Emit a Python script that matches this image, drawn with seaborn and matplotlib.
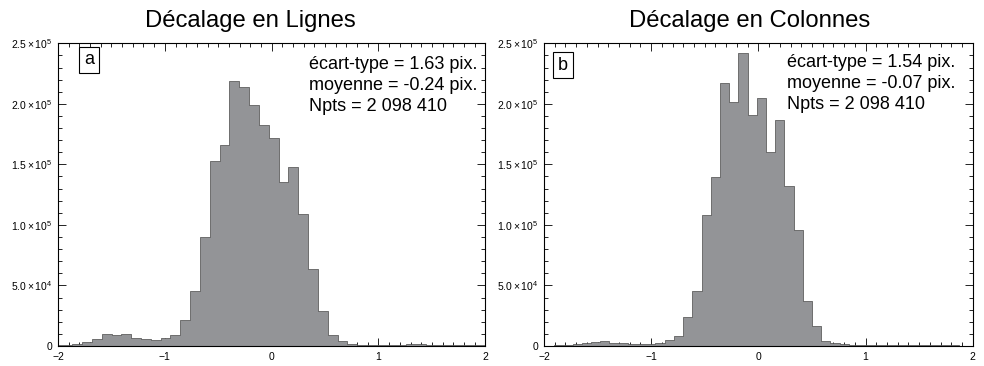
import numpy as np
import pandas as pd
import matplotlib
matplotlib.use("Agg")
import matplotlib.pyplot as plt
import seaborn as sns
from matplotlib.ticker import MultipleLocator

# ---------------- data ----------------
titles = ["Décalage en Lignes", "Décalage en Colonnes"]
panel_labels = ["a", "b"]
stats_a = ["écart-type = 1.63 pix.", "moyenne = -0.24 pix.", "Npts = 2 098 410"]
stats_b = ["écart-type = 1.54 pix.", "moyenne = -0.07 pix.", "Npts = 2 098 410"]

# panel a : bins of width 0.092, edge k = -0.027 + 0.092*k, k from -22
bin_origin_a = -0.027
bin_width_a = 0.092
first_bin_a = -22
counts_a = [500, 800, 1700, 3100, 6100, 9800, 8900, 9800, 7000, 5400,
            5300, 6500, 9000, 21400, 45600, 89800, 152400, 165900, 218800, 214100,
            198700, 182400, 172200, 135600, 148000, 109100, 63700, 28700, 9200, 3800,
            1600, 1100, 900, 800, 900, 1100, 1300, 1400, 1200, 1000,
            800, 700, 600, 500]

# panel b : bins of width 0.0859, edge k = -0.015 + 0.0859*k, k from -24
bin_origin_b = -0.015
bin_width_b = 0.0859
first_bin_b = -24
counts_b = [300, 300, 500, 1100, 1700, 2200, 2900, 3800, 2400, 2200,
            1800, 1700, 1900, 2200, 4700, 8500, 24000, 45200, 107800, 139700,
            217400, 201700, 241700, 190400, 204500, 160400, 186600, 132300, 95400, 36900,
            16500, 4400, 2200, 1700, 1100, 800, 800, 1000, 1100, 1100,
            1000, 800, 700, 600, 500, 500, 400, 300]

x_ticks = [-2, -1, 0, 1, 2]
x_tick_labels = ["\u22122", "\u22121", "0", "1", "2"]
y_ticks = [0, 5e4, 1e5, 1.5e5, 2e5, 2.5e5]
y_tick_labels = ["0", r"$5.0\times10^{4}$", r"$1.0\times10^{5}$",
                 r"$1.5\times10^{5}$", r"$2.0\times10^{5}$", r"$2.5\times10^{5}$"]

# ---------------- style ----------------
sns.set_theme(style="white")
plt.rcParams["font.family"] = ["Liberation Sans", "DejaVu Sans"]
plt.rcParams["mathtext.fontset"] = "custom"
plt.rcParams["mathtext.rm"] = "Liberation Sans"
plt.rcParams["mathtext.it"] = "Liberation Sans:italic"
plt.rcParams["mathtext.bf"] = "Liberation Sans:bold"

W, H = 984, 366
fig = plt.figure(figsize=(W / 100, H / 100), dpi=100)

def fx(px):
    return px / W

def fy(py):
    return 1 - py / H

axes_px = [(58, 43.3, 485.3, 346), (544, 43.3, 972.7, 346)]
title_x = [250.5, 750]
label_box = [(89, 60), (563, 65)]
stats_pos = [(309, [69, 90, 111]), (787, [67, 88, 109])]

fill_color = "#939497"
edge_color = "#4a4a4a"

panels = [
    (bin_origin_a, bin_width_a, first_bin_a, counts_a, stats_a),
    (bin_origin_b, bin_width_b, first_bin_b, counts_b, stats_b),
]

for i, (orig, bw, k0, counts, stats) in enumerate(panels):
    x0, y0, x1, y1 = axes_px[i]
    ax = fig.add_axes([fx(x0), fy(y1), fx(x1 - x0), (y1 - y0) / H])
    n = len(counts)
    lo = orig + bw * k0
    hi = orig + bw * (k0 + n)
    centers = lo + bw * (np.arange(n) + 0.5)
    df = pd.DataFrame({"shift": centers, "count": np.asarray(counts, float)})
    sns.histplot(data=df, x="shift", weights="count", binwidth=bw,
                 binrange=(lo, hi), element="step",
                 fill=True, color=fill_color, alpha=1, edgecolor=edge_color,
                 linewidth=0.5, ax=ax)
    ax.set_xlim(-2, 2)
    ax.set_ylim(0, 2.5e5)
    ax.set_xlabel("")
    ax.set_ylabel("")
    ax.set_xticks(x_ticks)
    ax.set_xticklabels(x_tick_labels)
    ax.set_yticks(y_ticks)
    ax.set_yticklabels(y_tick_labels)
    ax.xaxis.set_minor_locator(MultipleLocator(0.1))
    ax.yaxis.set_minor_locator(MultipleLocator(1e4))
    ax.tick_params(which="both", direction="in", top=True, right=True,
                   bottom=True, left=True, color="black", width=0.6, labelsize=7.5,
                   labelcolor="black")
    ax.tick_params(which="major", length=6, pad=4)
    ax.tick_params(which="minor", length=3)
    for s in ax.spines.values():
        s.set_visible(True)
        s.set_color("black")
        s.set_linewidth(0.8)
    ax.set_facecolor("white")

    fig.text(fx(title_x[i]), fy(27.3), titles[i], ha="center", va="baseline",
             fontsize=17.2, color="black")
    bx, by = label_box[i]
    fig.text(fx(bx), fy(by), panel_labels[i], ha="center", va="center",
             fontsize=13, color="black",
             bbox=dict(boxstyle="square,pad=0.25", fc="white", ec="black", lw=0.8))
    sx, ys = stats_pos[i]
    for line, yb in zip(stats, ys):
        fig.text(fx(sx), fy(yb), line, ha="left", va="baseline",
                 fontsize=13, color="black")

fig.savefig("out.png", dpi=100, facecolor="white")
